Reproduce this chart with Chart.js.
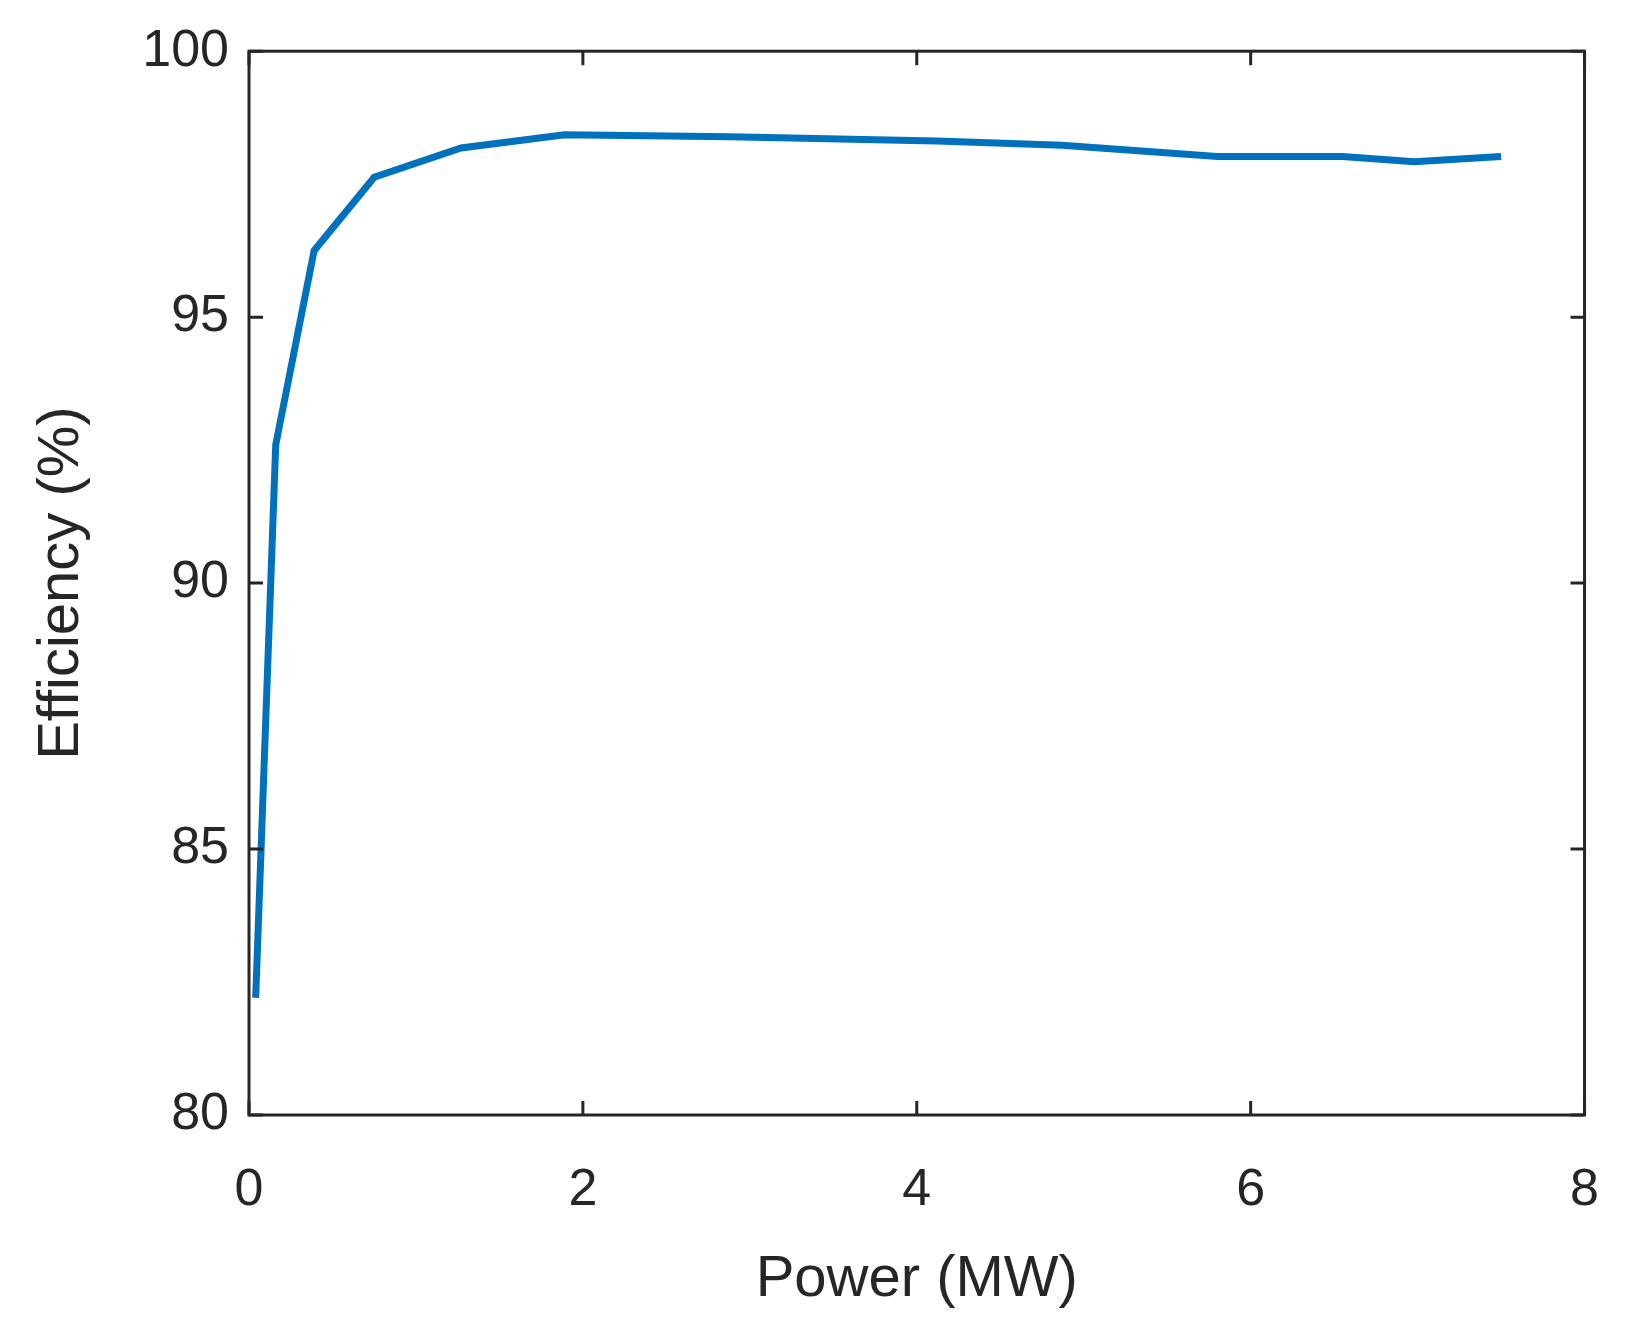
<!DOCTYPE html>
<html>
<head>
<meta charset="utf-8">
<script src="https://cdn.jsdelivr.net/npm/chart.js@4.4.1/dist/chart.umd.min.js"></script>
<style>
  html, body { margin: 0; padding: 0; background: #fff; }
  #wrap { width: 1643px; height: 1333px; }
</style>
</head>
<body>
<div id="wrap"><canvas id="chartEfficiency"></canvas></div>
<script>
// Datos
const powerMW = [0.04, 0.16, 0.39, 0.75, 1.27, 1.89, 2.88, 4.12, 4.87, 5.8, 6.55, 6.98, 7.5];
const efficiency = [82.2, 92.6, 96.25, 97.63, 98.18, 98.43, 98.39, 98.31, 98.23, 98.02, 98.02, 97.92, 98.02];
const xTicks = [0, 2, 4, 6, 8];
const yTicks = [80, 85, 90, 95, 100];
const xTitle = 'Power (MW)';
const yTitle = 'Efficiency (%)';

const FONT = '"Liberation Sans", Arial, sans-serif';
const INK = '#262626';

// Caja tipo MATLAB con marcas hacia dentro y títulos de ejes
const boxPlugin = {
  id: 'boxPlugin',
  afterDraw(chart) {
    const { ctx, chartArea: a, scales: { x, y } } = chart;
    const t = 14;
    ctx.save();
    ctx.strokeStyle = INK;
    ctx.lineWidth = 3;
    ctx.strokeRect(a.left, a.top, a.right - a.left, a.bottom - a.top);
    ctx.beginPath();
    xTicks.forEach(v => {
      const px = x.getPixelForValue(v);
      ctx.moveTo(px, a.bottom); ctx.lineTo(px, a.bottom - t);
      ctx.moveTo(px, a.top); ctx.lineTo(px, a.top + t);
    });
    yTicks.forEach(v => {
      const py = y.getPixelForValue(v);
      ctx.moveTo(a.left, py); ctx.lineTo(a.left + t, py);
      ctx.moveTo(a.right, py); ctx.lineTo(a.right - t, py);
    });
    ctx.stroke();

    ctx.fillStyle = INK;
    ctx.font = '58px ' + FONT;
    ctx.textAlign = 'center';
    ctx.textBaseline = 'middle';
    ctx.fillText(xTitle, (a.left + a.right) / 2, 1280);
    ctx.translate(62, (a.top + a.bottom) / 2);
    ctx.rotate(-Math.PI / 2);
    ctx.fillText(yTitle, 0, 0);
    ctx.restore();
  }
};

new Chart(document.getElementById('chartEfficiency').getContext('2d'), {
  type: 'line',
  data: {
    datasets: [{
      data: powerMW.map((p, i) => ({ x: p, y: efficiency[i] })),
      borderColor: '#0072BD',
      borderWidth: 7,
      pointRadius: 0,
      tension: 0,
      fill: false
    }]
  },
  options: {
    responsive: true,
    maintainAspectRatio: false,
    animation: false,
    layout: { padding: { top: 46, right: 45, left: 0, bottom: 0 } },
    plugins: { legend: { display: false }, tooltip: { enabled: false } },
    scales: {
      x: {
        type: 'linear', min: 0, max: 8,
        afterBuildTicks: s => { s.ticks = xTicks.map(v => ({ value: v })); },
        afterFit: s => { s.height = 218; },
        grid: { display: false, drawTicks: false },
        border: { display: false },
        ticks: { color: INK, font: { family: FONT, size: 52 }, padding: 44, maxRotation: 0 }
      },
      y: {
        type: 'linear', min: 80, max: 100,
        afterBuildTicks: s => { s.ticks = yTicks.map(v => ({ value: v })); },
        afterFit: s => { s.width = 249; },
        grid: { display: false, drawTicks: false },
        border: { display: false },
        ticks: { color: INK, font: { family: FONT, size: 52 }, padding: 20 }
      }
    }
  },
  plugins: [boxPlugin]
});
</script>
</body>
</html>
